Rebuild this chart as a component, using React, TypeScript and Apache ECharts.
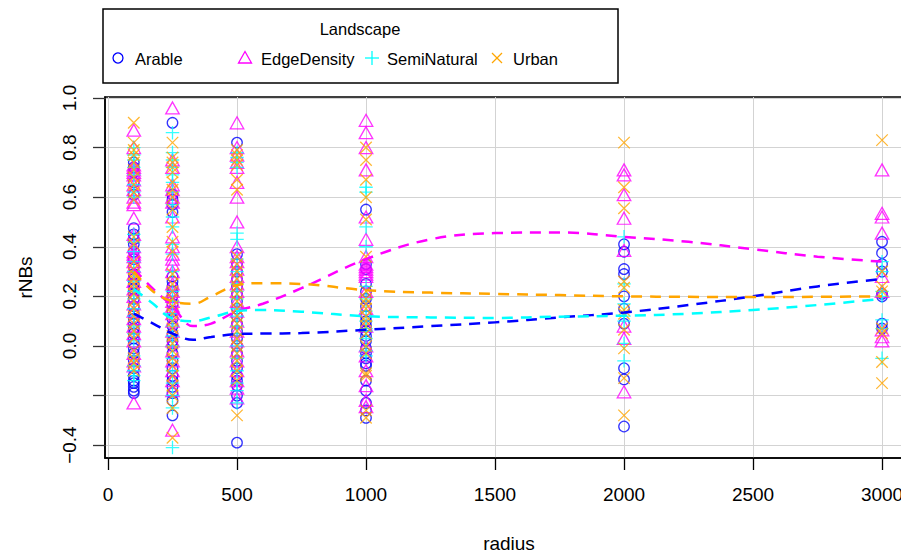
import React, { useEffect, useRef } from "react";
import * as echarts from "echarts";

const radii = [100, 250, 500, 1000, 2000, 3000];
const xTicks = [0, 500, 1000, 1500, 2000, 2500, 3000];
const yTicks = [-0.4, -0.2, 0, 0.2, 0.4, 0.6, 0.8, 1.0];
const yLabelValues = [-0.4, 0, 0.2, 0.4, 0.6, 0.8, 1.0];
const legendTitle = "Landscape";
const seriesNames = ["Arable", "EdgeDensity", "SemiNatural", "Urban"];

// values per radius (same order as radii)
const arable = [
  [0.74, 0.72, 0.70, 0.66, 0.61, 0.475, 0.45, 0.43, 0.41, 0.38, 0.35, 0.32, 0.29, 0.27, 0.25, 0.23, 0.21, 0.19, 0.16, 0.13, 0.11, 0.09, 0.07, 0.05, 0.03, 0.01, -0.01, -0.03, -0.06, -0.09, -0.12, -0.14, -0.15, -0.165, -0.18, -0.19],
  [0.90, 0.61, 0.59, 0.57, 0.54, 0.28, 0.26, 0.24, 0.22, 0.2, 0.17, 0.14, 0.11, 0.08, 0.05, 0.02, 0.0, -0.03, -0.06, -0.09, -0.12, -0.14, -0.165, -0.19, -0.22, -0.28],
  [0.82, 0.37, 0.33, 0.3, 0.27, 0.24, 0.21, 0.18, 0.15, 0.12, 0.09, 0.06, 0.03, 0.0, -0.03, -0.06, -0.09, -0.12, -0.14, -0.16, -0.2, -0.23, -0.39],
  [0.55, 0.33, 0.31, 0.25, 0.22, 0.19, 0.16, 0.12, 0.1, 0.08, 0.06, 0.04, 0.02, -0.01, -0.03, -0.05, -0.07, -0.08, -0.14, -0.18, -0.23, -0.26, -0.29],
  [0.41, 0.38, 0.31, 0.29, 0.2, 0.15, 0.09, -0.09, -0.135, -0.325],
  [0.42, 0.375, 0.33, 0.30, 0.21, 0.2, 0.09, 0.07],
];
const edgeDensity = [
  [0.87, 0.80, 0.73, 0.72, 0.71, 0.70, 0.69, 0.67, 0.65, 0.63, 0.60, 0.58, 0.57, 0.515, 0.45, 0.40, 0.38, 0.37, 0.36, 0.34, 0.32, 0.29, 0.26, 0.23, 0.2, 0.17, 0.14, 0.11, 0.08, 0.05, 0.02, -0.03, -0.06, -0.08, -0.23],
  [0.96, 0.75, 0.72, 0.65, 0.63, 0.60, 0.58, 0.52, 0.44, 0.40, 0.37, 0.35, 0.33, 0.30, 0.25, 0.22, 0.2, 0.18, 0.16, 0.13, 0.1, 0.06, 0.02, -0.02, -0.06, -0.1, -0.14, -0.18, -0.34],
  [0.90, 0.80, 0.77, 0.74, 0.72, 0.66, 0.60, 0.50, 0.40, 0.36, 0.34, 0.31, 0.28, 0.25, 0.22, 0.18, 0.14, 0.1, 0.06, 0.02, -0.02, -0.06, -0.1, -0.14, -0.17, -0.21],
  [0.91, 0.86, 0.80, 0.71, 0.52, 0.43, 0.36, 0.33, 0.32, 0.31, 0.30, 0.29, 0.28, 0.22, 0.15, 0.08, 0.0, -0.04, -0.1, -0.16, -0.22, -0.245],
  [0.71, 0.69, 0.61, 0.515, 0.385, 0.08, 0.03, -0.185],
  [0.71, 0.535, 0.52, 0.455, 0.28, 0.22, 0.065, 0.037, 0.02],
];
const semiNatural = [
  [0.80, 0.77, 0.75, 0.72, 0.69, 0.65, 0.62, 0.60, 0.45, 0.42, 0.38, 0.34, 0.30, 0.26, 0.22, 0.19, 0.15, 0.12, 0.08, 0.05, 0.02, -0.04, -0.08, -0.10, -0.12, -0.14],
  [0.86, 0.78, 0.75, 0.72, 0.69, 0.66, 0.62, 0.57, 0.52, 0.48, 0.41, 0.37, 0.30, 0.22, 0.18, 0.13, 0.08, 0.04, 0.0, -0.05, -0.1, -0.15, -0.2, -0.25, -0.41],
  [0.78, 0.76, 0.74, 0.72, 0.455, 0.43, 0.35, 0.30, 0.25, 0.22, 0.19, 0.15, 0.12, 0.08, 0.05, 0.0, -0.05, -0.1, -0.15, -0.18, -0.23],
  [0.64, 0.62, 0.48, 0.40, 0.24, 0.19, 0.14, 0.10, 0.07, 0.06, 0.03, -0.02, -0.04],
  [0.44, 0.25, 0.17, 0.12, 0.10, 0.01, -0.06],
  [0.34, 0.30, 0.22, 0.20, 0.105, 0.07, -0.05],
];
const urban = [
  [0.90, 0.82, 0.79, 0.77, 0.74, 0.71, 0.68, 0.65, 0.62, 0.59, 0.44, 0.41, 0.34, 0.31, 0.29, 0.27, 0.25, 0.23, 0.21, 0.18, 0.15, 0.12, 0.09, 0.06, 0.03, -0.02, -0.05, -0.07, -0.10],
  [0.82, 0.76, 0.74, 0.72, 0.70, 0.66, 0.63, 0.60, 0.55, 0.48, 0.42, 0.38, 0.29, 0.25, 0.22, 0.19, 0.16, 0.13, 0.10, 0.07, 0.04, 0.01, -0.02, -0.05, -0.08, -0.12, -0.16, -0.20, -0.25, -0.37],
  [0.79, 0.77, 0.75, 0.73, 0.67, 0.63, 0.36, 0.33, 0.30, 0.27, 0.24, 0.21, 0.18, 0.15, 0.12, 0.09, 0.06, 0.03, 0.0, -0.03, -0.06, -0.10, -0.14, -0.28],
  [0.80, 0.75, 0.67, 0.60, 0.51, 0.36, 0.22, 0.19, 0.17, 0.15, 0.12, 0.10, 0.08, 0.05, 0.0, -0.03, -0.11, -0.12, -0.26, -0.29],
  [0.82, 0.64, 0.555, 0.26, 0.235, 0.145, 0.13, 0.065, -0.01, -0.13, -0.28],
  [0.83, 0.30, 0.24, 0.22, 0.07, 0.05, -0.065, -0.15],
];

// smoothed fits
const fitX = [100, 175, 250, 330, 400, 500, 600, 750, 1000, 1250, 1500, 1750, 2000, 2250, 2500, 2750, 3000];
const arableFit = [0.13, 0.09, 0.05, 0.025, 0.036, 0.048, 0.05, 0.052, 0.065, 0.08, 0.095, 0.115, 0.135, 0.165, 0.2, 0.24, 0.27];
const edgeDensityFit = [0.31, 0.23, 0.16, 0.08, 0.09, 0.14, 0.17, 0.233, 0.35, 0.43, 0.455, 0.458, 0.44, 0.42, 0.39, 0.36, 0.34];
const semiNaturalFit = [0.23, 0.17, 0.11, 0.10, 0.115, 0.14, 0.145, 0.138, 0.12, 0.115, 0.113, 0.118, 0.122, 0.13, 0.145, 0.165, 0.19];
const urbanFit = [0.30, 0.22, 0.18, 0.17, 0.20, 0.245, 0.253, 0.25, 0.225, 0.215, 0.21, 0.205, 0.2, 0.198, 0.197, 0.198, 0.2];

const colors = ["#0000FF", "#FF00FF", "#00FFFF", "#FFA500"];
const FONT = "'Liberation Sans', Arial, Helvetica, sans-serif";

const plusPath = "path://M0,6L12,6M6,0L6,12";
const crossPath = "path://M0,0L10,10M0,10L10,0";

function toPoints(groups: number[][]) {
  const out: number[][] = [];
  radii.forEach((r, i) => groups[i].forEach((v) => out.push([r, v])));
  return out;
}

export default function App() {
  const ref = useRef<HTMLDivElement>(null);
  useEffect(() => {
    document.body.style.margin = "0";
    const chart = echarts.init(ref.current!, null, { renderer: "svg" });
    const scatterDefs = [
      { data: arable, symbol: "circle", size: 10.5 },
      { data: edgeDensity, symbol: "triangle", size: [13.5, 12] },
      { data: semiNatural, symbol: plusPath, size: 13.5 },
      { data: urban, symbol: crossPath, size: 11.5 },
    ];
    const fits = [arableFit, edgeDensityFit, semiNaturalFit, urbanFit];
    const series: any[] = [];
    scatterDefs.forEach((d, i) => {
      series.push({
        type: "scatter",
        name: seriesNames[i],
        data: toPoints(d.data),
        symbol: d.symbol,
        symbolSize: d.size,
        itemStyle: { color: "rgba(0,0,0,0)", borderColor: colors[i], borderWidth: 1.3 },
        emphasis: { disabled: true },
      });
    });
    fits.forEach((f, i) => {
      series.push({
        type: "line",
        name: seriesNames[i] + " fit",
        data: fitX.map((x, j) => [x, f[j]]),
        smooth: 0.4,
        showSymbol: false,
        lineStyle: { color: colors[i], width: 2.5, type: [11, 8] },
        emphasis: { disabled: true },
      });
    });

    const lx = 118, ly = 58;
    const legendGraphics: any[] = [
      { type: "rect", shape: { x: 103, y: 9, width: 515, height: 74 }, style: { fill: "#fff", stroke: "#000", lineWidth: 1.5 } },
      { type: "text", x: 360, y: 29, style: { text: legendTitle, font: `16.5px ${FONT}`, fill: "#000", textAlign: "center", textVerticalAlign: "middle" } },
      { type: "circle", shape: { cx: lx, cy: ly, r: 5 }, style: { fill: "none", stroke: colors[0], lineWidth: 1.3 } },
      { type: "polygon", shape: { points: [[245, 51.5], [238.5, 63], [251.5, 63]] }, style: { fill: "none", stroke: colors[1], lineWidth: 1.3 } },
      { type: "line", shape: { x1: 365, y1: 58, x2: 379, y2: 58 }, style: { stroke: colors[2], lineWidth: 1.3 } },
      { type: "line", shape: { x1: 372, y1: 51, x2: 372, y2: 65 }, style: { stroke: colors[2], lineWidth: 1.3 } },
      { type: "line", shape: { x1: 492, y1: 53, x2: 502, y2: 63 }, style: { stroke: colors[3], lineWidth: 1.3 } },
      { type: "line", shape: { x1: 492, y1: 63, x2: 502, y2: 53 }, style: { stroke: colors[3], lineWidth: 1.3 } },
    ];
    const textXs = [135, 261, 387, 513];
    seriesNames.forEach((n, i) => {
      legendGraphics.push({
        type: "text", x: textXs[i], y: ly + 1,
        style: { text: n, font: `16.5px ${FONT}`, fill: "#000", textAlign: "left", textVerticalAlign: "middle" },
      });
    });

    chart.setOption({
      animation: false,
      backgroundColor: "#fff",
      grid: {
        left: 105, top: 97, width: 808, height: 361, show: true, borderColor: "#000", borderWidth: 1.5,
        backgroundColor: "rgba(0,0,0,0)", outerBoundsMode: "none", containLabel: false,
      },
      xAxis: {
        type: "value", min: -11.6, max: 3120,
        name: "radius", nameLocation: "middle", nameGap: 76,
        nameTextStyle: { fontSize: 19, color: "#000", fontFamily: FONT },
        axisLine: { show: true, onZero: false, lineStyle: { color: "#000", width: 1.5 } },
        axisTick: { show: true, length: 12, customValues: xTicks, lineStyle: { color: "#000", width: 1.3 } },
        axisLabel: { customValues: xTicks, margin: 27, fontSize: 19, color: "#000", fontFamily: FONT, formatter: (v: number) => String(v) },
        splitLine: { show: true, lineStyle: { color: "#d3d3d3", width: 1 } },
      },
      yAxis: {
        type: "value", min: -0.452, max: 1.004,
        name: "rNBs", nameLocation: "middle", nameGap: 70,
        nameTextStyle: { fontSize: 19, color: "#000", fontFamily: FONT },
        axisLine: { show: true, onZero: false, lineStyle: { color: "#000", width: 1.5 } },
        axisTick: { show: true, length: 12, customValues: yTicks, lineStyle: { color: "#333", width: 1.3 } },
        axisLabel: {
          customValues: yLabelValues, rotate: 90, margin: 26, fontSize: 19, color: "#000", fontFamily: FONT,
          formatter: (v: number) => (v < 0 ? "\u2212" + Math.abs(v).toFixed(1) : v.toFixed(1)),
        },
        splitLine: { show: true, lineStyle: { color: "#d3d3d3", width: 1 } },
      },
      graphic: legendGraphics,
      series,
    });
    return () => chart.dispose();
  }, []);
  return <div ref={ref} style={{ width: 901, height: 554 }} />;
}
